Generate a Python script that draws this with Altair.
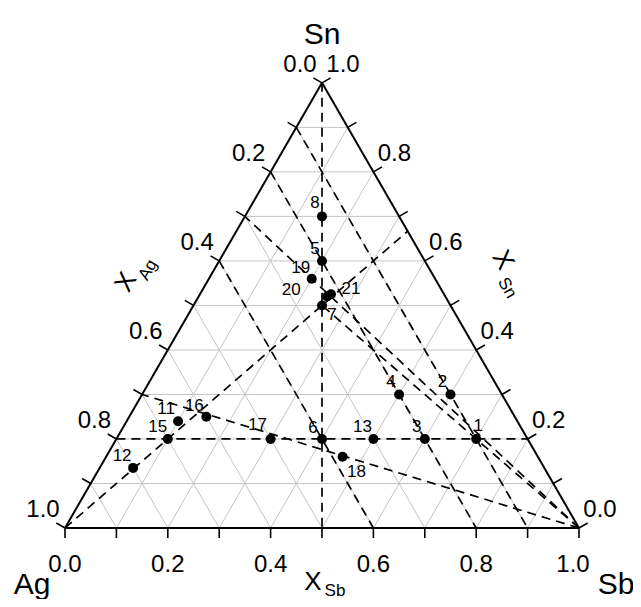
import altair as alt
import pandas as pd
import numpy as np

# ---------------- data (compositions: x_Ag, x_Sb, x_Sn) ----------------
pt_label = ["1", "2", "3", "4", "5", "6", "7", "8", "11", "12", "13", "15", "16", "17", "18", "19", "20", "21"]
pt_ag = [0.10, 0.10, 0.20, 0.20, 0.20, 0.40, 0.25, 0.15, 0.66, 0.80, 0.30, 0.70, 0.60, 0.50, 0.38, 0.24, 0.23, 0.22]
pt_sb = [0.70, 0.60, 0.60, 0.50, 0.20, 0.40, 0.25, 0.15, 0.10, 0.065, 0.50, 0.10, 0.15, 0.30, 0.46, 0.20, 0.25, 0.255]
pt_sn = [0.20, 0.30, 0.20, 0.30, 0.60, 0.20, 0.50, 0.70, 0.24, 0.135, 0.20, 0.20, 0.25, 0.20, 0.16, 0.56, 0.52, 0.525]
# label offsets in pixels (dx right, dy down)
lab_dx = [2, -8, -8, -8, -7, -9, 10, -7, -12, -11, -11, -10, -12, -13, 14, -11, -36, 20]
lab_dy = [-13, -12, -12, -12, -12, -11, 10, -13, -12, -12, -12, -12, -11, -14, 15, -11, -7, -5]

# dashed section lines: start composition -> end composition
d_ag1 = [0.0, 0.8, 0.1, 0.2, 0.4, 0.0, 0.0, 0.0, 1.0]
d_sb1 = [0.0, 0.0, 0.0, 0.0, 0.0, 1.0, 1.0, 1.0, 0.0]
d_sn1 = [1.0, 0.2, 0.9, 0.8, 0.6, 0.0, 0.0, 0.0, 0.0]
d_ag2 = [0.5, 0.0, 0.1, 0.2, 0.4, 0.7, 0.3, 0.25, 0.0]
d_sb2 = [0.5, 0.8, 0.9, 0.8, 0.6, 0.0, 0.0, 0.25, 1 / 3]
d_sn2 = [0.0, 0.2, 0.0, 0.0, 0.0, 0.3, 0.7, 0.50, 2 / 3]

tick_vals = [0.0, 0.2, 0.4, 0.6, 0.8, 1.0]
tick_text = ["0.0", "0.2", "0.4", "0.6", "0.8", "1.0"]

# ---------------- geometry ----------------
K = 514.0            # pixels per unit side
OX, OY = 65.0, 528.0  # pixel position of the Ag corner in the page
W, H = 625, 591
S3 = np.sqrt(3) / 2
FONT = "Liberation Sans"


def tx(sb, sn):
    return np.asarray(sb) + np.asarray(sn) / 2


def ty(sn):
    return np.asarray(sn) * S3


xs = alt.Scale(domain=[(8 - OX) / K, (8 + W - OX) / K], nice=False, zero=False)
ys = alt.Scale(domain=[(OY - 8 - H) / K, (OY - 8) / K], nice=False, zero=False)


def seg_chart(df, **mk):
    return alt.Chart(df).mark_rule(**mk).encode(
        x=alt.X("x1:Q", scale=xs, axis=None),
        y=alt.Y("y1:Q", scale=ys, axis=None),
        x2="x2:Q",
        y2="y2:Q",
    )


def seg_df(ag1, sb1, sn1, ag2, sb2, sn2):
    return pd.DataFrame({
        "x1": tx(sb1, sn1), "y1": ty(sn1),
        "x2": tx(sb2, sn2), "y2": ty(sn2),
    })


def text_chart(df, **mk):
    return alt.Chart(df).mark_text(font=FONT, color="black", **mk).encode(
        x=alt.X("x:Q", scale=xs, axis=None), y=alt.Y("y:Q", scale=ys, axis=None), text="t:N")


# grid lines every 0.1 in the three directions
g = np.arange(1, 10) / 10.0
z = np.zeros_like(g)
grid = pd.concat([
    seg_df(1 - g, z, g, z, 1 - g, g),        # constant Sn
    seg_df(1 - g, g, z, z, g, 1 - g),        # constant Sb
    seg_df(g, 1 - g, z, g, z, 1 - g),        # constant Ag
])
grid_layer = seg_chart(grid, color="#c4c4c4", strokeWidth=1)

dash_layer = seg_chart(seg_df(d_ag1, d_sb1, d_sn1, d_ag2, d_sb2, d_sn2),
                       color="black", strokeWidth=1.7, strokeDash=[9, 6])

edges = seg_df([1, 0, 0], [0, 1, 0], [0, 0, 1], [0, 0, 1], [1, 0, 0], [0, 1, 0])
edge_layer = seg_chart(edges, color="black", strokeWidth=2)

# tick marks, perpendicular and outward, 10 px long
t = np.arange(0, 11) / 10.0
L = 10.0 / K
bx = tx(t, 0 * t); by = ty(0 * t)
lx = tx(0 * t, t); ly = ty(t)
rx = tx(1 - t, t); ry = ty(t)
ticks = pd.DataFrame({
    "x1": np.concatenate([bx, lx, rx]),
    "y1": np.concatenate([by, ly, ry]),
    "x2": np.concatenate([bx, lx - L * S3, rx + L * S3]),
    "y2": np.concatenate([by - L, ly + L * 0.5, ry + L * 0.5]),
})
tick_layer = seg_chart(ticks, color="black", strokeWidth=1.6)

# points
pts = pd.DataFrame({
    "t": pt_label,
    "px": tx(pt_sb, pt_sn),
    "py": ty(pt_sn),
})
pts["x"] = pts["px"] + np.array(lab_dx) / K
pts["y"] = pts["py"] - np.array(lab_dy) / K

point_layer = alt.Chart(pts).mark_circle(size=100, color="black", opacity=1).encode(
    x=alt.X("px:Q", scale=xs, axis=None), y=alt.Y("py:Q", scale=ys, axis=None))
plabel_layer = text_chart(pts, fontSize=17)

# tick labels
tv = np.array(tick_vals)
bshift = np.array([0, 0, 0, 0, 0, -6]) / K
tl_bottom = pd.DataFrame({"x": tx(tv, 0 * tv) + bshift, "y": ty(0 * tv) - 37 / K, "t": tick_text})
tl_left = pd.DataFrame({"x": tx(0 * tv, 1 - tv) - 22 / K, "y": ty(1 - tv) + 18 / K, "t": tick_text})
tl_right = pd.DataFrame({"x": tx(1 - tv, tv) + 21 / K, "y": ty(tv) + 18 / K, "t": tick_text})
tl_layer = text_chart(pd.concat([tl_bottom, tl_left, tl_right]), fontSize=24)

# corner labels (baseline alphabetic)
corners = pd.DataFrame({
    "t": ["Sn", "Ag", "Sb"],
    "x": [tx(0, 1), tx(0, 0) - 33 / K, tx(1, 0) + 37 / K],
    "y": [ty(1) + 39 / K, ty(0) - 66 / K, ty(0) - 66 / K],
})
corner_layer = text_chart(corners, fontSize=30, baseline="alphabetic")


def title_layer(main_xy, sub_xy, sub, angle):
    d1 = pd.DataFrame({"x": [main_xy[0]], "y": [main_xy[1]], "t": ["X"]})
    d2 = pd.DataFrame({"x": [sub_xy[0]], "y": [sub_xy[1]], "t": [sub]})
    kw = {} if angle == 0 else {"angle": angle}
    return text_chart(d1, fontSize=26, **kw) + text_chart(d2, fontSize=17, **kw)


def px(xp, yp):
    return ((xp - OX) / K, (OY - yp) / K)


t_ag = title_layer(px(126, 282), px(148, 270), "Ag", 300)
t_sn = title_layer(px(503, 260), px(507, 288), "Sn", 60)
t_sb = title_layer(px(313, 582), px(335, 591), "Sb", 0)

chart = alt.layer(
    grid_layer, dash_layer, edge_layer, tick_layer, point_layer, plabel_layer,
    tl_layer, corner_layer, t_ag, t_sn, t_sb
).properties(width=W, height=H, autosize="none", padding=0).configure_view(stroke=None)

chart.save("out.html", embed_options={"renderer": "svg", "actions": False})
